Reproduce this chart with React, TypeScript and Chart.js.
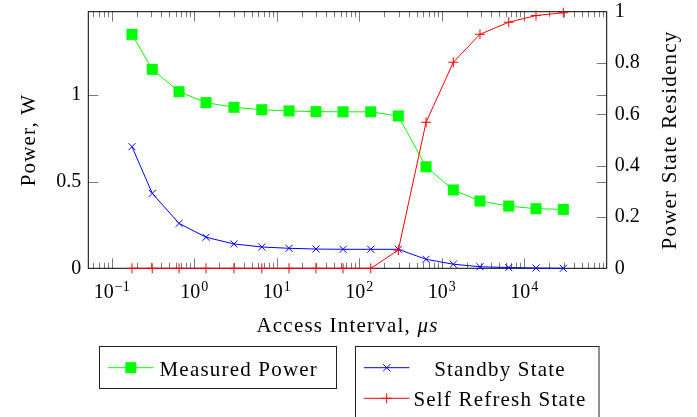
import React, { useEffect, useRef } from 'react';
import { Chart, registerables } from 'chart.js';

Chart.register(...registerables);

// ---- data ----
const intervals = [0.176, 0.31, 0.655, 1.39, 3.03, 6.6, 14.1, 29.9, 63.7, 138, 298, 646, 1383, 2910, 6490, 13900, 29800];
const measuredPower = [1.35, 1.148, 1.019, 0.956, 0.929, 0.915, 0.908, 0.904, 0.903, 0.903, 0.879, 0.586, 0.452, 0.388, 0.359, 0.344, 0.34];
const standbyState = [0.474, 0.292, 0.175, 0.121, 0.095, 0.083, 0.078, 0.075, 0.074, 0.074, 0.074, 0.035, 0.016, 0.006, 0.003, 0.001, 0.0];
const selfRefreshState = [0, 0, 0, 0, 0, 0, 0, 0, 0, 0, 0.071, 0.569, 0.803, 0.912, 0.959, 0.985, 0.996];

const xTickExponents = [-1, 0, 1, 2, 3, 4];
const leftTicks = [0, 0.5, 1];
const rightTicks = [0, 0.2, 0.4, 0.6, 0.8, 1];

const xTitle = 'Access Interval, ';
const xTitleUnit = 'μs';
const leftTitle = 'Power, W';
const rightTitle = 'Power State Residency';
const legendLeft = ['Measured Power'];
const legendRight = ['Standby State', 'Self Refresh State'];

const FONT = "'Liberation Serif', 'DejaVu Serif', serif";
const GREEN = '#00ff00';
const BLUE = '#0000ff';
const RED = '#ff0000';
const TEXT = '#000';
const TITLE_SIZE = 21;
const SPACING = '1.2px';

function drawMarker(ctx: CanvasRenderingContext2D, kind: string, cx: number, cy: number, color: string) {
  ctx.save();
  ctx.fillStyle = color;
  ctx.strokeStyle = color;
  ctx.lineWidth = 1;
  if (kind === 'rect') {
    ctx.fillRect(cx - 5.5, cy - 5.5, 11, 11);
  } else if (kind === 'x') {
    ctx.beginPath();
    ctx.moveTo(cx - 3.6, cy - 3.6); ctx.lineTo(cx + 3.6, cy + 3.6);
    ctx.moveTo(cx - 3.6, cy + 3.6); ctx.lineTo(cx + 3.6, cy - 3.6);
    ctx.stroke();
  } else {
    ctx.beginPath();
    ctx.moveTo(cx - 5, cy); ctx.lineTo(cx + 5, cy);
    ctx.moveTo(cx, cy - 5); ctx.lineTo(cx, cy + 5);
    ctx.stroke();
  }
  ctx.restore();
}

const framePlugin = {
  id: 'frameTicks',
  beforeDatasetsDraw(chart: any) {
    const { ctx, chartArea: a, scales } = chart;
    const x = scales.x, y = scales.y, y2 = scales.y2;
    ctx.save();
    ctx.strokeStyle = '#7a7a7a';
    ctx.lineWidth = 1;
    ctx.beginPath();
    for (let n = -2; n <= 5; n++) {
      for (let k = 1; k <= 9; k++) {
        const v = k * Math.pow(10, n);
        if (v <= x.min || v >= x.max) continue;
        const px = Math.round(x.getPixelForValue(v)) + 0.5;
        const len = k === 1 ? 10 : 5.5;
        ctx.moveTo(px, a.bottom); ctx.lineTo(px, a.bottom - len);
        ctx.moveTo(px, a.top); ctx.lineTo(px, a.top + len);
      }
    }
    for (const v of leftTicks) {
      if (v <= y.min) continue;
      const py = Math.round(y.getPixelForValue(v)) + 0.5;
      ctx.moveTo(a.left, py); ctx.lineTo(a.left + 10, py);
      ctx.moveTo(a.right, py); ctx.lineTo(a.right - 10, py);
    }
    for (const v of rightTicks) {
      if (v <= y2.min || v >= y2.max) continue;
      const py = Math.round(y2.getPixelForValue(v)) + 0.5;
      ctx.moveTo(a.right, py); ctx.lineTo(a.right - 10, py);
    }
    ctx.stroke();
    ctx.strokeStyle = '#000';
    ctx.strokeRect(a.left, a.top, a.right - a.left, a.bottom - a.top);
    ctx.restore();
  },
};

const textPlugin = {
  id: 'texts',
  afterDraw(chart: any) {
    const { ctx, chartArea: a, scales } = chart;
    const x = scales.x;
    ctx.save();
    ctx.fillStyle = TEXT;
    ctx.textBaseline = 'alphabetic';
    ctx.textAlign = 'left';

    // x tick labels with superscript exponents
    for (const e of xTickExponents) {
      const px = x.getPixelForValue(Math.pow(10, e));
      const base = '10';
      const sup = e < 0 ? '\u2212' + Math.abs(e) : String(e);
      ctx.font = `20px ${FONT}`;
      const wb = ctx.measureText(base).width;
      ctx.font = `14px ${FONT}`;
      const ws = ctx.measureText(sup).width;
      const start = px - (wb + ws + 1) / 2;
      ctx.font = `20px ${FONT}`;
      ctx.fillText(base, start, a.bottom + 30);
      ctx.font = `14px ${FONT}`;
      ctx.fillText(sup, start + wb + 1, a.bottom + 22.3);
    }

    (ctx as any).letterSpacing = SPACING;

    // x title
    const cx = (a.left + a.right) / 2;
    ctx.font = `${TITLE_SIZE}px ${FONT}`;
    const w1 = ctx.measureText(xTitle).width;
    ctx.font = `italic ${TITLE_SIZE}px ${FONT}`;
    const w2 = ctx.measureText(xTitleUnit).width;
    const sx = cx - (w1 + w2) / 2;
    ctx.font = `${TITLE_SIZE}px ${FONT}`;
    ctx.fillText(xTitle, sx, a.bottom + 63.5);
    ctx.font = `italic ${TITLE_SIZE}px ${FONT}`;
    ctx.fillText(xTitleUnit, sx + w1, a.bottom + 63.5);

    // y titles
    const cy = (a.top + a.bottom) / 2;
    ctx.font = `${TITLE_SIZE}px ${FONT}`;
    ctx.textAlign = 'center';
    ctx.save();
    ctx.translate(35, cy);
    ctx.rotate(-Math.PI / 2);
    ctx.fillText(leftTitle, 0, 0);
    ctx.restore();
    ctx.save();
    ctx.translate(675.5, cy);
    ctx.rotate(-Math.PI / 2);
    ctx.fillText(rightTitle, 0, 0);
    ctx.restore();

    // legends
    ctx.strokeStyle = '#222';
    ctx.lineWidth = 1;
    ctx.strokeRect(99.5, 346.5, 237, 42);
    ctx.strokeRect(355.5, 346.5, 243.5, 90);

    ctx.lineWidth = 1;
    // entry 1
    ctx.strokeStyle = GREEN;
    ctx.beginPath(); ctx.moveTo(108, 367.7); ctx.lineTo(153.5, 367.7); ctx.stroke();
    drawMarker(ctx, 'rect', 130.8, 367.7, GREEN);
    ctx.textAlign = 'left';
    ctx.fillStyle = TEXT;
    ctx.fillText(legendLeft[0], 159.5, 375.5);

    // entry 2
    ctx.strokeStyle = BLUE;
    ctx.beginPath(); ctx.moveTo(364, 367.7); ctx.lineTo(409.5, 367.7); ctx.stroke();
    drawMarker(ctx, 'x', 386.7, 367.7, BLUE);
    ctx.strokeStyle = RED;
    ctx.beginPath(); ctx.moveTo(364, 398.3); ctx.lineTo(409.5, 398.3); ctx.stroke();
    drawMarker(ctx, '+', 386.7, 398.3, RED);
    ctx.textAlign = 'center';
    ctx.fillStyle = TEXT;
    ctx.fillText(legendRight[0], 500, 375.5);
    ctx.fillText(legendRight[1], 500, 406.3);

    ctx.restore();
  },
};

const fitY = (w: number) => (s: any) => {
  s.width = w;
  s.paddingTop = 0;
  s.paddingBottom = 0;
};

export default function App() {
  const ref = useRef<HTMLCanvasElement>(null);
  useEffect(() => {
    document.body.style.margin = '0';
    const canvas = ref.current;
    if (!canvas) return;
    const chart = new Chart(canvas, {
      type: 'line',
      data: {
        datasets: [
          {
            label: legendRight[1],
            data: intervals.map((v, i) => ({ x: v, y: selfRefreshState[i] })),
            yAxisID: 'y2',
            borderColor: RED,
            backgroundColor: RED,
            borderWidth: 1,
            pointStyle: 'cross',
            pointRadius: 5,
            pointBorderWidth: 1,
            pointBorderColor: RED,
            tension: 0,
            clip: false,
            order: 0,
          },
          {
            label: legendRight[0],
            data: intervals.map((v, i) => ({ x: v, y: standbyState[i] })),
            yAxisID: 'y2',
            borderColor: BLUE,
            backgroundColor: BLUE,
            borderWidth: 1,
            pointStyle: 'crossRot',
            pointRadius: 5,
            pointBorderWidth: 1,
            pointBorderColor: BLUE,
            tension: 0,
            clip: false,
            order: 1,
          },
          {
            label: legendLeft[0],
            data: intervals.map((v, i) => ({ x: v, y: measuredPower[i] })),
            yAxisID: 'y',
            borderColor: GREEN,
            backgroundColor: GREEN,
            borderWidth: 1,
            pointStyle: 'rect',
            pointRadius: 7.8,
            pointBorderWidth: 0,
            tension: 0,
            clip: false,
            order: 2,
          },
        ],
      } as any,
      options: {
        animation: false,
        responsive: false,
        devicePixelRatio: 1,
        events: [],
        layout: { padding: { top: 11.7, left: 0, right: 0, bottom: 0 } },
        plugins: {
          legend: { display: false },
          tooltip: { enabled: false },
          title: { display: false },
        },
        scales: {
          x: {
            type: 'logarithmic',
            position: 'bottom',
            min: 0.052,
            max: 100000,
            ticks: { display: false },
            grid: { display: false, drawTicks: false },
            border: { display: false },
            afterFit: (s: any) => { s.height = 148.7; s.paddingLeft = 0; s.paddingRight = 0; },
          },
          y: {
            type: 'linear',
            position: 'left',
            min: 0,
            max: 1.4807,
            afterBuildTicks: (s: any) => { s.ticks = leftTicks.map((v) => ({ value: v })); },
            ticks: {
              font: { family: FONT, size: 20 },
              color: TEXT,
              padding: 7,
              autoSkip: false,
              callback: (v: any) => String(v),
            },
            grid: { display: false, drawTicks: false },
            border: { display: false },
            afterFit: fitY(88.3),
          },
          y2: {
            type: 'linear',
            position: 'right',
            min: 0,
            max: 1,
            afterBuildTicks: (s: any) => { s.ticks = rightTicks.map((v) => ({ value: v })); },
            ticks: {
              font: { family: FONT, size: 20 },
              color: TEXT,
              padding: 8,
              autoSkip: false,
              callback: (v: any) => String(v),
            },
            grid: { display: false, drawTicks: false },
            border: { display: false },
            afterFit: fitY(90.3),
          },
        },
      } as any,
      plugins: [framePlugin, textPlugin],
    });
    return () => chart.destroy();
  }, []);

  return (
    <div style={{ width: 697, height: 417, position: 'relative', background: '#fff' }}>
      <canvas ref={ref} width={697} height={417} style={{ display: 'block' }} />
    </div>
  );
}
